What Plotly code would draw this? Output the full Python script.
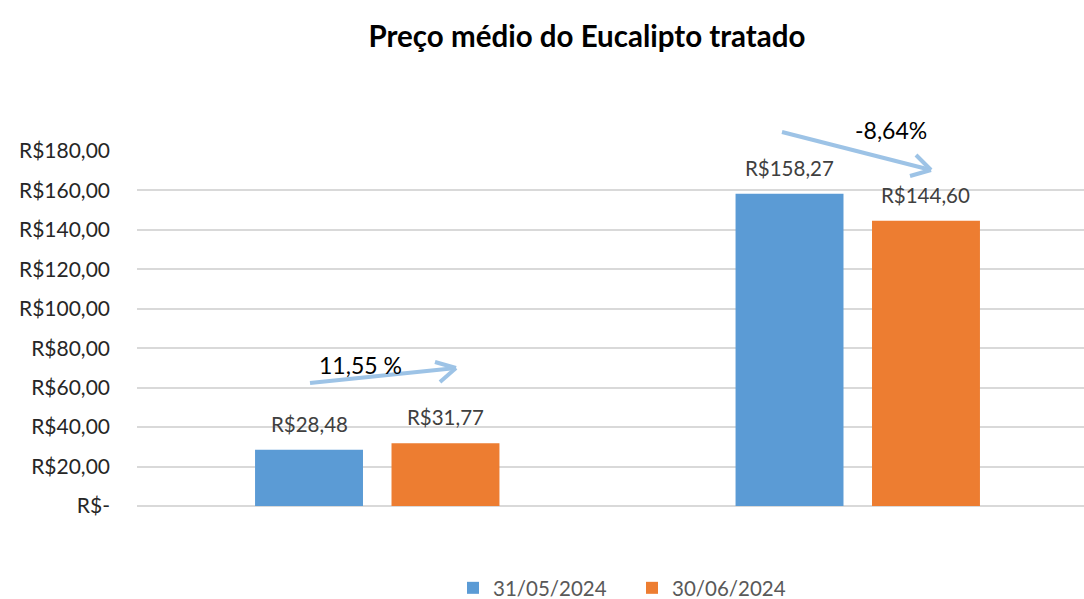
import plotly.graph_objects as go

categories = ["Eucalipto A", "Eucalipto B"]
series_names = ["31/05/2024", "30/06/2024"]
values_may = [28.48, 158.27]
values_jun = [31.77, 144.60]
changes = ["11,55 %", "-8,64%"]
tick_values = [0, 20, 40, 60, 80, 100, 120, 140, 160, 180]

colors = ["#5B9BD5", "#ED7D31"]
FONT = "Lato"


def brl(v):
    s = f"{v:,.2f}".replace(",", "X").replace(".", ",").replace("X", ".")
    return "R$" + s


tick_text = ["R$-" if v == 0 else brl(v) for v in tick_values]

fig = go.Figure()
for k, (name, vals, col) in enumerate(zip(series_names, [values_may, values_jun], colors)):
    fig.add_trace(go.Bar(x=categories, y=vals, name=name, marker_color=col,
                         marker_line_width=0, legend="legend" if k == 0 else "legend2"))

bargap = 0.432
bargroupgap = 0.209
slot = (1 - bargap) / 2  # in category units

annotations = []
for i, vals in enumerate([values_may, values_jun]):
    off = (i - 0.5) * slot
    for ci, v in enumerate(vals):
        annotations.append(dict(x=ci + off, y=v, xref="x", yref="y", text=brl(v),
                                showarrow=False, yanchor="bottom", yshift=12,
                                font=dict(family=FONT, size=20.5, color="#404040")))

# change labels (paper coords)
L, R_, T, B = 137, 1084, 151, 506
def px(x):
    return (x - L) / (R_ - L)
def py(y):
    return (B - y) / (B - T)

annotations.append(dict(x=px(360), y=py(365), xref="paper", yref="paper", text=changes[0],
                        xanchor="center", yanchor="middle",
                        showarrow=False, font=dict(family=FONT, size=23, color="#000000")))
annotations.append(dict(x=px(891), y=py(130), xref="paper", yref="paper", text=changes[1],
                        xanchor="center", yanchor="middle",
                        showarrow=False, font=dict(family=FONT, size=23, color="#000000")))

arrow_color = "#9DC3E6"
arrows = [
    [(310, 383), (456, 368), (435, 362), (440, 382)],
    [(782, 132), (931, 170), (916, 155), (910, 176)],
]
shapes = []
for start, tip, a1, a2 in arrows:
    for p0, p1 in [(start, tip), (a1, tip), (a2, tip)]:
        shapes.append(dict(type="line", xref="paper", yref="paper",
                           x0=px(p0[0]), y0=py(p0[1]), x1=px(p1[0]), y1=py(p1[1]),
                           line=dict(color=arrow_color, width=4)))

legend_common = dict(orientation="h", xanchor="left", xref="container",
                     y=1 - 588 / 599, yanchor="middle", yref="container",
                     font=dict(family=FONT, size=20.5, color="#595959"), itemwidth=30,
                     bgcolor="rgba(0,0,0,0)")

fig.update_layout(
    width=1084, height=599,
    margin=dict(l=L, r=0, t=T, b=599 - B, autoexpand=False),
    paper_bgcolor="white", plot_bgcolor="white",
    barmode="group", bargap=bargap, bargroupgap=bargroupgap,
    title=dict(text="<b>Preço médio do Eucalipto tratado</b>", x=587 / 1084, xanchor="center",
               y=1 - 37 / 599, yanchor="middle", xref="container", yref="container",
               font=dict(family=FONT, size=29.5, color="#000000")),
    xaxis=dict(range=[-0.5, -0.5 + (R_ - L) / 480.5], showticklabels=False, showgrid=False,
               zeroline=False, showline=False, fixedrange=True),
    yaxis=dict(range=[0, 180], tickvals=tick_values, ticktext=tick_text,
               showgrid=True, gridcolor="#D9D9D9", gridwidth=1.5, zeroline=True,
               zerolinecolor="#D9D9D9", zerolinewidth=1.5, ticklabelstandoff=26,
               tickfont=dict(family=FONT, size=21, color="#262626")),
    legend=dict(x=453 / 1084, **legend_common),
    legend2=dict(x=632 / 1084, **legend_common),
    annotations=annotations,
    shapes=shapes,
    showlegend=True,
)

fig.write_html("out.html")
